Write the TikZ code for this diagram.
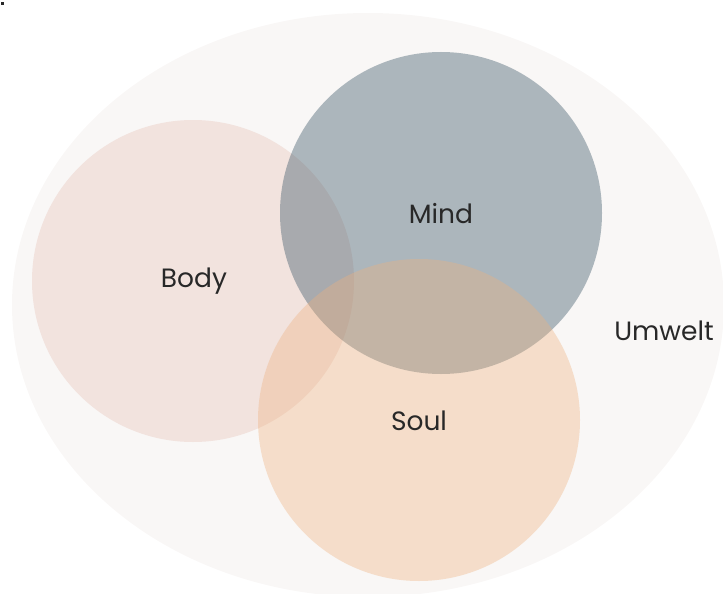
\documentclass[tikz,border=0pt]{standalone}
\usepackage{fontspec}
\usepackage{tikz}
\setmainfont{Poppins}

\definecolor{umweltcol}{RGB}{249,247,246}
\definecolor{bodycol}{RGB}{242,227,222}
\definecolor{mindcol}{RGB}{58,86,102}
\definecolor{soulcol}{RGB}{238,177,126}
\definecolor{textcol}{RGB}{40,40,40}

\tikzset{
  blob/.style={circle, inner sep=0pt, minimum size=322pt},
  lbl/.style={text=textcol, text opacity=1, font=\fontsize{26.5}{30}\selectfont}
}

\begin{document}
\begin{tikzpicture}[x=1pt,y=-1pt]
        \useasboundingbox (0,0) rectangle (723,594);
        \fill[textcol] (1,2) rectangle (4,5);

        \fill[umweltcol] (368,305) ellipse [x radius=356, y radius=292];

        \node[blob,fill=bodycol] (body) at (193,281) {};
        \node[blob,fill=mindcol,fill opacity=0.4] (mind) at (441,213) {};
        \node[blob,fill=soulcol,fill opacity=0.36] (soul) at (419,420) {};

        \node[lbl] (bodytxt) at (194,281) {Body};
        \node[lbl] (mindtxt) at (441,214) {Mind};
        \node[lbl] (soultxt) at (419,421) {Soul};
        \node[lbl] (umwelt) at (664,331) {Umwelt};
    \end{tikzpicture}
\end{document}
